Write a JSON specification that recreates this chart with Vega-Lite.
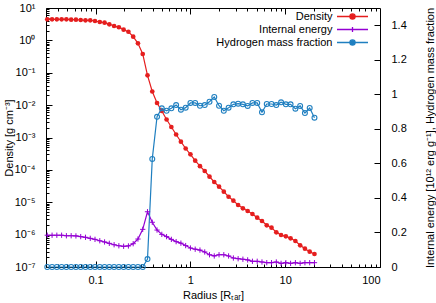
{
  "$schema": "https://vega.github.io/schema/vega-lite/v6.json",
  "width": 334,
  "height": 259,
  "autosize": {"type": "none"},
  "padding": {"left": 46, "top": 8, "right": 56, "bottom": 36},
  "config": {
    "font": "Liberation Sans",
    "view": {"stroke": "black", "strokeWidth": 1},
    "axis": {"domain": false, "grid": false, "labelFont": "Liberation Sans", "labelFontSize": 11, "labelColor": "black", "titleFont": "Liberation Sans", "titleFontSize": 11, "titleFontWeight": "normal", "titleColor": "black", "tickColor": "black", "tickWidth": 1}
  },
  "data": {"values": [
    {"r": 0.03095, "d": 4.48, "e": 0.184, "h": 0},
    {"r": 0.03476, "d": 4.48, "e": 0.184, "h": 0},
    {"r": 0.03903, "d": 4.48, "e": 0.184, "h": 0},
    {"r": 0.04383, "d": 4.48, "e": 0.184, "h": 0},
    {"r": 0.04922, "d": 4.48, "e": 0.181, "h": 0},
    {"r": 0.05527, "d": 4.35, "e": 0.181, "h": 0},
    {"r": 0.06206, "d": 4.35, "e": 0.180, "h": 0},
    {"r": 0.06969, "d": 4.26, "e": 0.176, "h": 0},
    {"r": 0.07826, "d": 4.17, "e": 0.172, "h": 0},
    {"r": 0.08788, "d": 4.17, "e": 0.166, "h": 0},
    {"r": 0.09863, "d": 3.97, "e": 0.160, "h": 0},
    {"r": 0.1108, "d": 3.69, "e": 0.152, "h": 0},
    {"r": 0.1244, "d": 3.52, "e": 0.145, "h": 0},
    {"r": 0.1396, "d": 3.14, "e": 0.137, "h": 0},
    {"r": 0.1568, "d": 2.78, "e": 0.129, "h": 0},
    {"r": 0.1761, "d": 2.54, "e": 0.123, "h": 0},
    {"r": 0.1977, "d": 2.14, "e": 0.120, "h": 0},
    {"r": 0.2220, "d": 1.85, "e": 0.122, "h": 0},
    {"r": 0.2493, "d": 1.30, "e": 0.135, "h": 0},
    {"r": 0.2799, "d": 0.81, "e": 0.162, "h": 0},
    {"r": 0.3143, "d": 0.38, "e": 0.218, "h": 0},
    {"r": 0.3529, "d": 0.0834, "e": 0.320, "h": 0.046},
    {"r": 0.3963, "d": 0.0264, "e": 0.259, "h": 0.626},
    {"r": 0.4450, "d": 0.01164, "e": 0.214, "h": 0.870},
    {"r": 0.4996, "d": 0.00659, "e": 0.189, "h": 0.919},
    {"r": 0.5610, "d": 0.0036, "e": 0.176, "h": 0.905},
    {"r": 0.6300, "d": 0.00211, "e": 0.160, "h": 0.919},
    {"r": 0.7074, "d": 0.00124, "e": 0.147, "h": 0.938},
    {"r": 0.7943, "d": 0.000741, "e": 0.138, "h": 0.911},
    {"r": 0.8916, "d": 0.000457, "e": 0.124, "h": 0.923},
    {"r": 1.001, "d": 0.000303, "e": 0.110, "h": 0.950},
    {"r": 1.124, "d": 0.000192, "e": 0.103, "h": 0.950},
    {"r": 1.262, "d": 0.000130, "e": 0.098, "h": 0.934},
    {"r": 1.417, "d": 0.0000923, "e": 0.087, "h": 0.938},
    {"r": 1.591, "d": 0.0000615, "e": 0.071, "h": 0.957},
    {"r": 1.786, "d": 0.0000422, "e": 0.064, "h": 0.985},
    {"r": 2.006, "d": 0.0000302, "e": 0.071, "h": 0.934},
    {"r": 2.252, "d": 0.0000212, "e": 0.071, "h": 0.905},
    {"r": 2.529, "d": 0.0000148, "e": 0.064, "h": 0.923},
    {"r": 2.840, "d": 0.0000112, "e": 0.052, "h": 0.942},
    {"r": 3.189, "d": 0.00000822, "e": 0.048, "h": 0.946},
    {"r": 3.580, "d": 0.0000065, "e": 0.045, "h": 0.942},
    {"r": 4.020, "d": 0.00000537, "e": 0.041, "h": 0.933},
    {"r": 4.513, "d": 0.00000434, "e": 0.033, "h": 0.950},
    {"r": 5.069, "d": 0.00000333, "e": 0.033, "h": 0.950},
    {"r": 5.691, "d": 0.00000264, "e": 0.029, "h": 0.896},
    {"r": 6.390, "d": 0.00000194, "e": 0.025, "h": 0.944},
    {"r": 7.175, "d": 0.00000164, "e": 0.025, "h": 0.944},
    {"r": 8.058, "d": 0.00000118, "e": 0.029, "h": 0.938},
    {"r": 9.047, "d": 0.000000973, "e": 0.021, "h": 0.954},
    {"r": 10.16, "d": 0.000000887, "e": 0.025, "h": 0.942},
    {"r": 11.40, "d": 0.000000769, "e": 0.021, "h": 0.942},
    {"r": 12.81, "d": 0.000000635, "e": 0.025, "h": 0.917},
    {"r": 14.38, "d": 0.000000468, "e": 0.021, "h": 0.933},
    {"r": 16.15, "d": 0.000000367, "e": 0.025, "h": 0.892},
    {"r": 18.13, "d": 0.000000297, "e": 0.025, "h": 0.921},
    {"r": 20.36, "d": 0.000000252, "e": 0.025, "h": 0.865}
  ]},
  "transform": [{"fold": ["d", "e", "h"], "as": ["key", "value"]}],
  "layer": [
    {
      "transform": [{"filter": "datum.key === 'd'"}],
      "mark": {"type": "line", "strokeWidth": 1.2},
      "encoding": {
        "x": {"field": "r", "type": "quantitative",
          "scale": {"type": "log", "domain": [0.03, 100], "nice": false},
          "axis": {"orient": "bottom", "values": [0.1, 1, 10, 100], "format": "~g", "tickSize": -6, "labelPadding": 13,
            "title": "Radius [Rₜₐᵣ]", "titleX": 167, "titleY": 28, "titleBaseline": "middle", "titleAlign": "center"}},
        "y": {"field": "value", "type": "quantitative",
          "scale": {"type": "log", "domain": [1e-7, 10], "nice": false},
          "axis": {"orient": "left", "values": [1e-7, 1e-6, 1e-5, 1e-4, 1e-3, 1e-2, 1e-1, 1, 10],
            "labelExpr": "['10⁻⁷','10⁻⁶','10⁻⁵','10⁻⁴','10⁻³','10⁻²','10⁻¹','10⁰','10¹'][round(log(datum.value)/LN10)+7]",
            "tickSize": -6, "labelPadding": 17,
            "title": "Density [g cm⁻³]", "titleX": -37, "titleY": 129.5, "titleAngle": 270, "titleBaseline": "middle", "titleAlign": "center"}},
        "color": {"field": "key", "type": "nominal",
          "scale": {"domain": ["d", "e", "h"], "range": ["#e51e1e", "#9400d3", "#1f7fc0"]},
          "legend": {
            "orient": "none", "legendX": 301, "legendY": 3, "title": null, "padding": 0,
            "labelAlign": "right", "labelOffset": -25.5, "symbolSize": 16, "symbolStrokeWidth": 1.3,
            "labelFont": "Liberation Sans", "labelFontSize": 11, "labelColor": "black", "rowPadding": 1,
            "labelExpr": "datum.value === 'd' ? 'Density' : datum.value === 'e' ? 'Internal energy' : 'Hydrogen mass fraction'",
            "encode": {"symbols": {"update": {
              "shape": {"signal": "datum.value === 'e' ? 'M-7.75,0H7.75M0,-1.3V1.3' : 'M-7.75,0H7.75M1.3,0A1.3,1.3,0,1,1,-1.3,0A1.3,1.3,0,1,1,1.3,0'"},
              "fill": {"signal": "datum.value === 'd' ? '#e51e1e' : 'transparent'"},
              "stroke": {"signal": "datum.value === 'd' ? '#e51e1e' : datum.value === 'e' ? '#9400d3' : '#1f7fc0'"},
              "strokeWidth": {"value": 1.3},
              "size": {"value": 16},
              "opacity": {"value": 1}
            }}}
          }}
      }
    },
    {
      "transform": [{"filter": "datum.key === 'd'"}],
      "mark": {"type": "point", "shape": "circle", "filled": true, "size": 22, "opacity": 1},
      "encoding": {
        "x": {"field": "r", "type": "quantitative",
          "scale": {"type": "log", "domain": [0.03, 100], "nice": false},
          "axis": {"orient": "bottom", "values": [0.04,0.05,0.06,0.07,0.08,0.09,0.2,0.3,0.4,0.5,0.6,0.7,0.8,0.9,2,3,4,5,6,7,8,9,20,30,40,50,60,70,80,90], "labels": false, "tickSize": -3, "title": null}},
        "y": {"field": "value", "type": "quantitative",
          "scale": {"type": "log", "domain": [1e-7, 10], "nice": false},
          "axis": {"orient": "left", "values": [2e-7,3e-7,4e-7,5e-7,6e-7,7e-7,8e-7,9e-7,2e-6,3e-6,4e-6,5e-6,6e-6,7e-6,8e-6,9e-6,2e-5,3e-5,4e-5,5e-5,6e-5,7e-5,8e-5,9e-5,2e-4,3e-4,4e-4,5e-4,6e-4,7e-4,8e-4,9e-4,0.002,0.003,0.004,0.005,0.006,0.007,0.008,0.009,0.02,0.03,0.04,0.05,0.06,0.07,0.08,0.09,0.2,0.3,0.4,0.5,0.6,0.7,0.8,0.9,2,3,4,5,6,7,8,9], "labels": false, "tickSize": -3, "title": null}},
        "color": {"field": "key", "type": "nominal", "scale": {"domain": ["d", "e", "h"], "range": ["#e51e1e", "#9400d3", "#1f7fc0"]}, "legend": null}
      }
    },
    {
      "transform": [{"filter": "datum.key !== 'd'"}],
      "mark": {"type": "line", "strokeWidth": 1.2},
      "encoding": {
        "x": {"field": "r", "type": "quantitative",
          "scale": {"type": "log", "domain": [0.03, 100], "nice": false},
          "axis": {"orient": "top", "values": [0.1, 1, 10], "labels": false, "tickSize": -6, "title": null}},
        "y": {"field": "value", "type": "quantitative",
          "scale": {"type": "linear", "domain": [0, 1.5], "nice": false, "zero": false},
          "axis": {"orient": "right", "values": [0, 0.2, 0.4, 0.6, 0.8, 1, 1.2, 1.4], "format": "~g", "tickSize": -6, "labelPadding": 17,
            "title": "Internal energy [10¹² erg g⁻¹], Hydrogen mass fraction", "titleX": 50, "titleY": 129.5, "titleAngle": 270, "titleBaseline": "middle", "titleAlign": "center"}},
        "color": {"field": "key", "type": "nominal", "scale": {"domain": ["d", "e", "h"], "range": ["#e51e1e", "#9400d3", "#1f7fc0"]}, "legend": null}
      }
    },
    {
      "transform": [{"filter": "datum.key === 'e'"}],
      "mark": {"type": "point", "shape": "M-1,0H1M0,-1V1", "filled": false, "size": 28, "strokeWidth": 1, "opacity": 1},
      "encoding": {
        "x": {"field": "r", "type": "quantitative",
          "scale": {"type": "log", "domain": [0.03, 100], "nice": false},
          "axis": {"orient": "top", "values": [0.04,0.05,0.06,0.07,0.08,0.09,0.2,0.3,0.4,0.5,0.6,0.7,0.8,0.9,2,3,4,5,6,7,8,9,20,30,40,50,60,70,80,90], "labels": false, "tickSize": -3, "title": null}},
        "y": {"field": "value", "type": "quantitative",
          "scale": {"type": "linear", "domain": [0, 1.5], "nice": false, "zero": false}, "axis": null},
        "color": {"field": "key", "type": "nominal", "scale": {"domain": ["d", "e", "h"], "range": ["#e51e1e", "#9400d3", "#1f7fc0"]}, "legend": null}
      }
    },
    {
      "transform": [{"filter": "datum.key === 'h'"}],
      "mark": {"type": "point", "shape": "circle", "filled": false, "size": 24, "strokeWidth": 1.1, "opacity": 1},
      "encoding": {
        "x": {"field": "r", "type": "quantitative",
          "scale": {"type": "log", "domain": [0.03, 100], "nice": false}, "axis": null},
        "y": {"field": "value", "type": "quantitative",
          "scale": {"type": "linear", "domain": [0, 1.5], "nice": false, "zero": false}, "axis": null},
        "color": {"field": "key", "type": "nominal", "scale": {"domain": ["d", "e", "h"], "range": ["#e51e1e", "#9400d3", "#1f7fc0"]}, "legend": null}
      }
    }
  ],
  "resolve": {"scale": {"x": "independent", "y": "independent"}, "axis": {"x": "independent", "y": "independent"}}
}
